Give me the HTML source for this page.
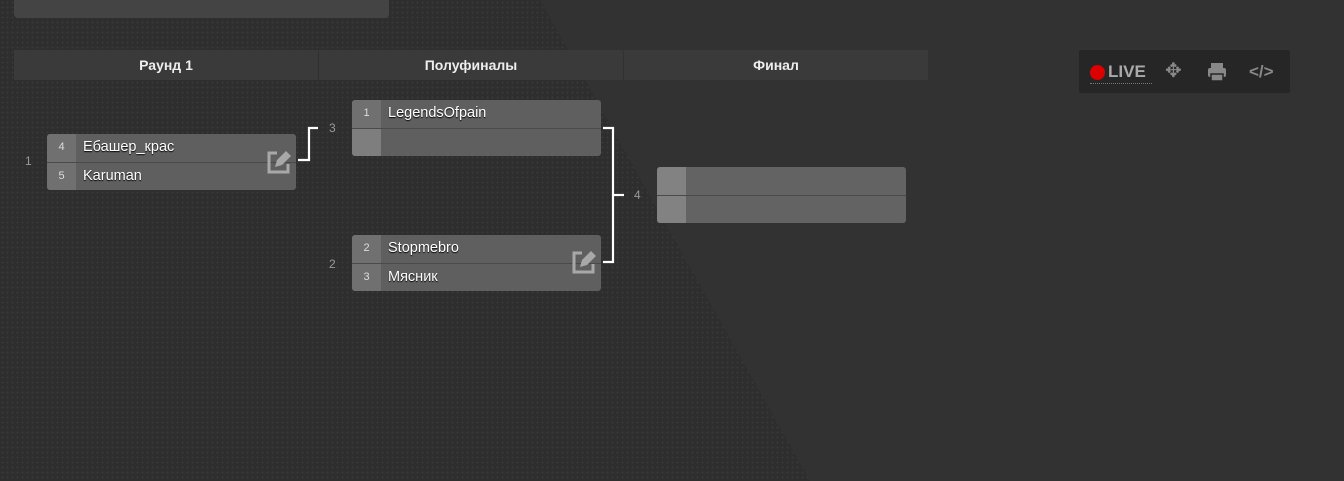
<!DOCTYPE html>
<html><head><meta charset="utf-8"><style>
*{margin:0;padding:0;box-sizing:border-box}
body{width:1344px;height:481px;overflow:hidden;background:#323232;position:relative;font-family:"Liberation Sans",sans-serif;}
#dots{position:absolute;left:0;top:0;width:1344px;height:481px;background-color:#2e2e2e;
background-image:radial-gradient(circle,#393939 0.8px,transparent 1.1px);background-size:5px 5px;
clip-path:polygon(0 0,540px 0,810px 481px,0 481px);}
.abs{position:absolute}
.topbox{left:14px;top:0;width:375px;height:18px;background:#444;border-radius:0 0 4px 4px}
.hdr{top:50px;height:30px;background:#3a3a3a;color:#eee;font-size:14px;font-weight:bold;text-align:center;line-height:30px}
.m{width:249px;height:56px;background:#5f5f5f;border-radius:3px;overflow:hidden}
.row{height:28px;position:relative;color:#fff;font-size:14.5px;line-height:27px}
.row+.row{border-top:1px solid #4a4a4a;line-height:26px}
.seed{position:absolute;left:0;top:0;width:29px;height:100%;background:#707070;color:#ddd;font-size:11px;text-align:center;line-height:26px}
.seed.e{background:#7e7e7e}
.name{position:absolute;left:36px;top:0;text-shadow:0 1px 1px #000}
.lbl{color:#999;font-size:12px}
.tb{left:1079px;top:50px;width:211px;height:43px;background:#262626;border-radius:2px}
</style></head><body>
<div id="dots"></div>
<div class="abs topbox"></div>
<div class="abs hdr" style="left:14px;width:304px">Раунд 1</div>
<div class="abs hdr" style="left:319px;width:304px">Полуфиналы</div>
<div class="abs hdr" style="left:624px;width:304px">Финал</div>

<div class="abs lbl" style="left:25px;top:154px">1</div>
<div class="abs m" style="left:47px;top:134px">
<div class="row"><div class="seed">4</div><div class="name">Ебашер_крас</div></div>
<div class="row"><div class="seed">5</div><div class="name">Karuman</div></div>
</div>
<div class="abs lbl" style="left:329px;top:121px">3</div>
<div class="abs m" style="left:352px;top:100px">
<div class="row"><div class="seed">1</div><div class="name">LegendsOfpain</div></div>
<div class="row"><div class="seed e"></div></div>
</div>
<div class="abs lbl" style="left:329px;top:257px">2</div>
<div class="abs m" style="left:352px;top:235px">
<div class="row"><div class="seed">2</div><div class="name">Stopmebro</div></div>
<div class="row"><div class="seed">3</div><div class="name">Мясник</div></div>
</div>
<div class="abs lbl" style="left:634px;top:188px">4</div>
<div class="abs m" style="left:657px;top:167px;background:#636363">
<div class="row"><div class="seed e" style="background:#828282"></div></div>
<div class="row"><div class="seed e" style="background:#828282"></div></div>
</div>

<svg class="abs" style="left:0;top:0" width="1344" height="481">
<g fill="none" stroke="#fff" stroke-width="2.2">
<polyline points="298,160 309,160 309,128 318,128"/>
<polyline points="603,128 613,128 613,262 603,262"/>
<line x1="613" y1="195" x2="624" y2="195"/>
</g>
<g fill="none" stroke="#a8a8a8" stroke-width="3">
<path d="M277 153 h-8 v19 h19 v-8"/>
<path d="M582 253 h-8 v19 h19 v-8"/>
</g>
<g fill="#a8a8a8">
<polygon points="275,167 277,160 286,151 291,156 282,165"/>
<polygon points="580,267 582,260 591,251 596,256 587,265"/>
</g>
</svg>

<div class="abs tb">
<div class="abs" style="left:11px;top:15px;width:15px;height:15px;border-radius:50%;background:#d00"></div>
<div class="abs" style="left:29px;top:11px;color:#aaa;font-weight:bold;font-size:17px;line-height:22px">LIVE</div>
<div class="abs" style="left:11px;top:33px;width:62px;border-top:1px dotted #777"></div>
<div class="abs" style="left:86px;top:10px;color:#888;font-size:20px;line-height:22px">✥</div>
<svg class="abs" style="left:128px;top:12px" width="20" height="20"><rect x="4" y="1" width="12" height="5" fill="#888"/><rect x="1" y="6" width="18" height="9" rx="2" fill="#888"/><rect x="4" y="12" width="12" height="7" fill="#888" stroke="#262626" stroke-width="1.5"/></svg>
<div class="abs" style="left:170px;top:11px;color:#888;font-size:17px;font-weight:bold;line-height:22px">&lt;/&gt;</div>
</div>
</body></html>
